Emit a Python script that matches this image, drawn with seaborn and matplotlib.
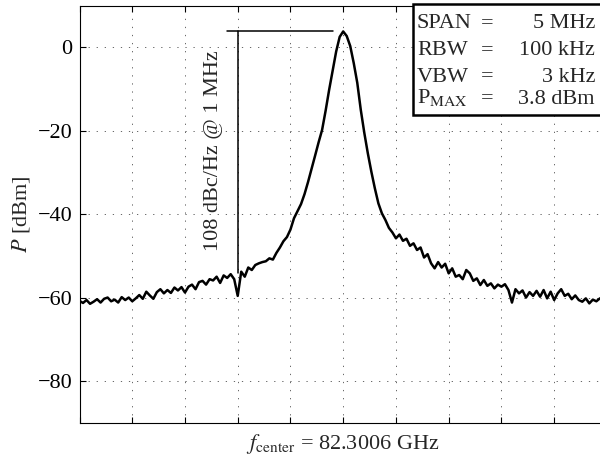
import numpy as np
import pandas as pd
import seaborn as sns
import matplotlib.pyplot as plt
from matplotlib.patches import Rectangle

span_mhz = 5.0
power_dbm = [
    -60.8, -61.3, -60.6, -61.5, -61.0, -60.4, -61.2, -60.3, -60.0, -60.9,
    -60.5, -61.2, -59.9, -60.6, -60.0, -60.9, -60.2, -59.4, -60.3, -58.6,
    -59.5, -60.3, -58.7, -58.0, -59.0, -58.2, -58.9, -57.6, -58.3, -57.5,
    -58.8, -57.4, -56.9, -58.0, -56.3, -56.0, -56.9, -55.6, -55.9, -55.0,
    -56.5, -54.7, -55.3, -54.4, -55.6, -59.6, -53.8, -55.0, -52.8, -53.4,
    -52.2, -51.8, -51.5, -51.3, -50.6, -50.9, -49.3, -48.0, -46.5, -45.5,
    -43.7, -41.0, -39.3, -37.6, -35.2, -32.3, -29.2, -26.0, -22.8, -19.8,
    -15.2, -10.2, -5.6, -1.0, 2.5, 3.8, 2.7, 0.3, -3.8, -8.5,
    -15.0, -20.5, -25.4, -29.8, -33.8, -37.4, -39.8, -41.4, -43.3, -44.4,
    -45.8, -44.9, -46.4, -45.9, -47.6, -47.0, -48.6, -48.0, -50.4, -49.6,
    -51.8, -53.0, -51.5, -52.8, -51.9, -54.2, -53.0, -55.0, -54.6, -55.6,
    -53.4, -54.2, -56.0, -55.4, -57.0, -55.8, -57.2, -56.6, -57.8, -56.9,
    -57.4, -56.8, -58.2, -61.2, -58.0, -59.0, -58.3, -60.0, -58.7, -59.6,
    -58.4, -59.8, -58.2, -60.2, -58.6, -60.6, -59.0, -58.0, -59.6, -59.1,
    -60.4, -59.5, -60.6, -61.0, -60.2, -61.4, -60.5, -60.9, -60.2, -60.7,
    -60.4,
]
freq_mhz = np.linspace(-span_mhz / 2, span_mhz / 2, len(power_dbm))

# phase noise marker: peak level, 1 MHz offset level
marker_h_x = [-1.1, -0.1]
marker_h_y = [3.8, 3.8]
marker_v_x = [-1.0, -1.0]
marker_v_y = [3.8, -54.2]
marker_label = "108 dBc/Hz @ 1 MHz"

settings_names = ["SPAN", "RBW", "VBW", r"P$_{\mathrm{MAX}}$"]
settings_values = ["5 MHz", "100 kHz", "3 kHz", "3.8 dBm"]

y_ticks = [-80, -60, -40, -20, 0]
x_ticks = np.arange(-2.5, 2.51, 0.5)

sns.set_theme(style="ticks")
plt.rcParams["font.family"] = ["Liberation Serif", "DejaVu Serif"]
plt.rcParams["mathtext.fontset"] = "stix"

df = pd.DataFrame({"f": freq_mhz, "P": power_dbm})

fig = plt.figure(figsize=(6.0, 4.66), dpi=100)
ax = fig.add_axes([0.1325, 0.093, 0.879, 0.895])

sns.lineplot(data=df, x="f", y="P", ax=ax, color="black", linewidth=1.8,
             estimator=None, zorder=3)
ax.plot(marker_h_x, marker_h_y, color="black", linewidth=1.1, zorder=4)
ax.plot(marker_v_x, marker_v_y, color="black", linewidth=1.1, zorder=4)
ax.text(-1.225, -24.8, marker_label, rotation=90, ha="center", va="center",
        fontsize=16)

ax.set_xlim(-2.5, 2.5)
ax.set_ylim(-90, 10)
ax.set_xticks(x_ticks)
ax.set_xticklabels([])
ax.set_yticks(y_ticks)
ax.tick_params(direction="in", length=4, width=0.8, top=True, right=True,
               labelsize=16, colors="black", pad=5)
ax.grid(True, color="0.4", linewidth=0.7, linestyle=(0, (1.3, 7)))
for side in ax.spines.values():
    side.set_color("black")
    side.set_linewidth(0.8)

ax.set_xlabel(r"$f_{\mathrm{center}}$ = 82.3006 GHz", fontsize=16, labelpad=2)
ax.set_ylabel(r"$P$ [dBm]", fontsize=16, labelpad=4)

# instrument settings box in the top right corner
W, H = 600.0, 466.0
fig.patches.append(Rectangle((413 / W, 1 - 115 / H), 200 / W, 111 / H,
                             transform=fig.transFigure, fill=True,
                             facecolor="white", edgecolor="black",
                             linewidth=1.8, zorder=10))
baselines = [28.5, 55.0, 81.5, 103.5]
for name, value, yb in zip(settings_names, settings_values, baselines):
    fig.text(417 / W, 1 - yb / H, name, ha="left", va="baseline",
             fontsize=16, zorder=11)
    fig.text(493 / W, 1 - yb / H, "=", ha="right", va="baseline",
             fontsize=16, zorder=11)
    fig.text(595 / W, 1 - yb / H, value, ha="right", va="baseline",
             fontsize=16, zorder=11)

fig.savefig("out.png", dpi=100)
plt.close(fig)
